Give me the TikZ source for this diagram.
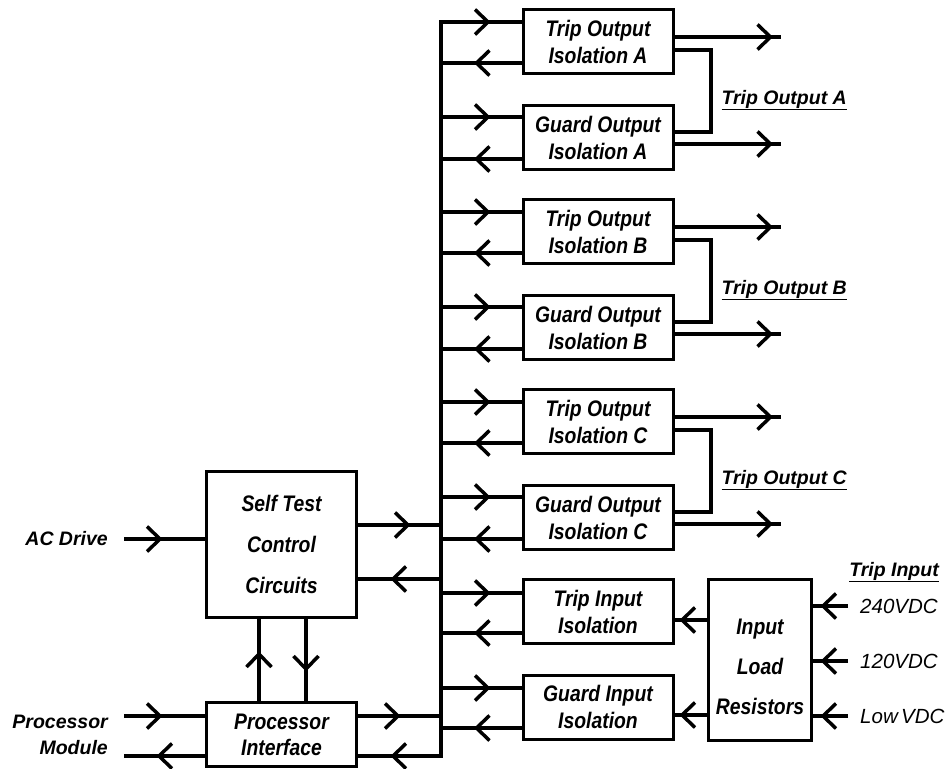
\documentclass[tikz,border=0pt]{standalone}
\usepackage{fontspec}
\setmainfont{Liberation Sans}
\newfontfamily\boxfont{Liberation Sans}[FakeStretch=0.86]
\usetikzlibrary{decorations.markings}
\begin{document}
\begin{tikzpicture}[x=1pt,y=-1pt,
  box/.style={draw, line width=3pt, inner sep=0pt, minimum width=150pt, minimum height=64pt,
    align=center, font=\boxfont\fontsize{22.5}{27}\selectfont\bfseries\itshape},
  wire/.style={line width=4pt},
  midarr/.style={postaction={decorate,decoration={markings,mark=at position #1pt with
    {\draw[line width=3.5pt,line cap=butt,line join=miter] (-13pt,12.5pt) -- (0pt,0pt) -- (-13pt,-12.5pt);}}}},
  lbl/.style={font=\fontsize{19.5}{26}\selectfont\bfseries\itshape, inner sep=0pt},
  vlbl/.style={font=\fontsize{20.5}{24}\selectfont\itshape, inner sep=0pt}]
\useasboundingbox (0,0) rectangle (946,769);

% ---------- right column boxes ----------
\node[box] (toa) at (598,41.5) {Trip Output\\Isolation A};
\node[box] (goa) at (598,137.5) {Guard Output\\Isolation A};
\node[box] (tob) at (598,231.5) {Trip Output\\Isolation B};
\node[box] (gob) at (598,327.5) {Guard Output\\Isolation B};
\node[box] (toc) at (598,421.5) {Trip Output\\Isolation C};
\node[box] (goc) at (598,517.5) {Guard Output\\Isolation C};
\node[box] (tii) at (598,611.5) {Trip Input\\Isolation};
\node[box] (gii) at (598,707) {Guard Input\\Isolation};

\node[box, minimum width=103pt, minimum height=161pt] (ilr) at (760,660) {};
\node[lbl, font=\boxfont\fontsize{22.5}{40}\selectfont\bfseries\itshape, align=center] (ilrtext) at (760,667) {Input\\Load\\Resistors};

\node[box, minimum width=150pt, minimum height=146pt, font=\boxfont\fontsize{22.5}{41}\selectfont\bfseries\itshape] (st) at (281.5,544.5) {Self Test\\Control\\Circuits};
\node[box, minimum width=150pt, minimum height=64pt, font=\boxfont\fontsize{22.5}{26}\selectfont\bfseries\itshape] (pi) at (281.5,734.5) {Processor\\Interface};

% ---------- bus ----------
\coordinate (bustop) at (441,22);
\coordinate (busbot) at (441,756);
\draw[wire, line cap=rect] (bustop) -- (busbot);

% group A
\draw[wire, midarr=47] (bustop |- 0,22) -- (toa.west |- 0,22);
\draw[wire, midarr=45] (toa.west |- 0,63) -- (bustop |- 0,63);
\draw[wire, midarr=47] (bustop |- 0,117) -- (goa.west |- 0,117);
\draw[wire, midarr=45] (goa.west |- 0,159) -- (bustop |- 0,159);
% group B
\draw[wire, midarr=47] (bustop |- 0,212) -- (tob.west |- 0,212);
\draw[wire, midarr=45] (tob.west |- 0,253) -- (bustop |- 0,253);
\draw[wire, midarr=47] (bustop |- 0,307) -- (gob.west |- 0,307);
\draw[wire, midarr=45] (gob.west |- 0,349) -- (bustop |- 0,349);
% group C
\draw[wire, midarr=47] (bustop |- 0,402) -- (toc.west |- 0,402);
\draw[wire, midarr=45] (toc.west |- 0,443) -- (bustop |- 0,443);
\draw[wire, midarr=47] (bustop |- 0,497) -- (goc.west |- 0,497);
\draw[wire, midarr=45] (goc.west |- 0,539) -- (bustop |- 0,539);
% inputs
\draw[wire, midarr=47] (bustop |- 0,593) -- (tii.west |- 0,593);
\draw[wire, midarr=45] (tii.west |- 0,633) -- (bustop |- 0,633);
\draw[wire, midarr=47] (bustop |- 0,688) -- (gii.west |- 0,688);
\draw[wire, midarr=45] (gii.west |- 0,728) -- (bustop |- 0,728);

% ---------- outputs ----------
\coordinate (oa1) at (781,37);  \coordinate (oa2) at (781,144);
\coordinate (ob1) at (781,227); \coordinate (ob2) at (781,334);
\coordinate (oc1) at (781,417); \coordinate (oc2) at (781,524);
\draw[wire, midarr=96] (toa.east |- oa1) -- (oa1);
\draw[wire, midarr=96] (goa.east |- oa2) -- (oa2);
\draw[wire, midarr=96] (tob.east |- ob1) -- (ob1);
\draw[wire, midarr=96] (gob.east |- ob2) -- (ob2);
\draw[wire, midarr=96] (toc.east |- oc1) -- (oc1);
\draw[wire, midarr=96] (goc.east |- oc2) -- (oc2);

\draw[wire, line join=miter] (toa.east |- 0,50) -- (711,50) -- (711,132) -- (goa.east |- 0,132);
\draw[wire, line join=miter] (tob.east |- 0,240) -- (711,240) -- (711,322) -- (gob.east |- 0,322);
\draw[wire, line join=miter] (toc.east |- 0,430) -- (711,430) -- (711,512) -- (goc.east |- 0,512);

\node[lbl, anchor=east] (la) at (847,100) {\underline{Trip Output A}};
\node[lbl, anchor=east] (lb) at (847,290) {\underline{Trip Output B}};
\node[lbl, anchor=east] (lc) at (847,480) {\underline{Trip Output C}};

% ---------- input load resistors ----------
\draw[wire, midarr=25] (ilr.west |- 0,620) -- (tii.east |- 0,620);
\draw[wire, midarr=25] (ilr.west |- 0,715) -- (gii.east |- 0,715);

\coordinate (i240) at (848,606);
\coordinate (i120) at (848,661);
\coordinate (ilow) at (848,716);
\draw[wire, midarr=25] (i240) -- (ilr.east |- i240);
\draw[wire, midarr=25] (i120) -- (ilr.east |- i120);
\draw[wire, midarr=25] (ilow) -- (ilr.east |- ilow);

\node[lbl, anchor=east] (ti) at (939,572) {\underline{Trip Input}};
\node[vlbl, anchor=west] (v240) at (860,606) {240VDC};
\node[vlbl, anchor=west] (v120) at (860,661) {120VDC};
\node[vlbl, anchor=west] (vlow) at (860,716) {Low\,VDC};

% ---------- self test / processor ----------
\coordinate (acd) at (124,539);
\coordinate (pmi) at (124,716);
\coordinate (pmo) at (124,756);
\draw[wire, midarr=36] (acd) -- (st.west |- acd);
\draw[wire, midarr=36] (pmi) -- (pi.west |- pmi);
\draw[wire, midarr=46] (pi.west |- pmo) -- (pmo);

\draw[wire, midarr=50] (st.east |- 0,525) -- (bustop |- 0,525);
\draw[wire, midarr=48] (bustop |- 0,579) -- (st.east |- 0,579);
\draw[wire, midarr=40] (pi.east |- 0,716) -- (bustop |- 0,716);
\draw[wire, midarr=48, line cap=rect] (busbot) -- (pi.east |- busbot);

\draw[wire, midarr=47] (pi.north -| 259,0) -- (st.south -| 259,0);
\draw[wire, midarr=50] (st.south -| 306,0) -- (pi.north -| 306,0);

\node[lbl, anchor=east] (lac) at (108,539) {AC Drive};
\node[lbl, anchor=east] (lpm1) at (108,722) {Processor};
\node[lbl, anchor=east] (lpm2) at (108,748) {Module};
\end{tikzpicture}
\end{document}
